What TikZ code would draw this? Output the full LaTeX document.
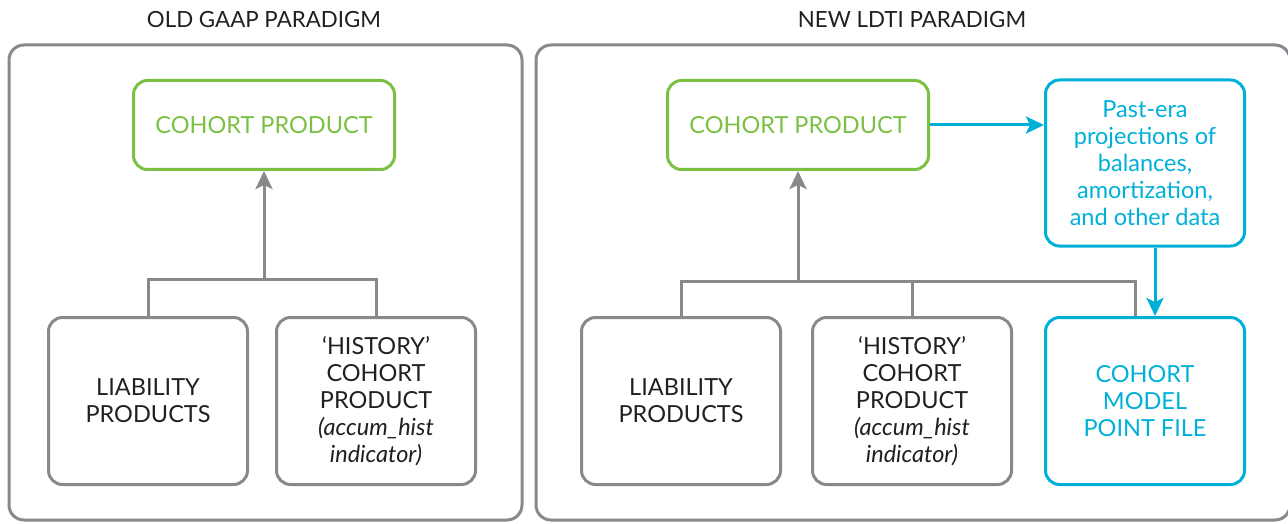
\documentclass[tikz,border=0pt]{standalone}
\usepackage{fontspec}
\setmainfont{Lato}
\usetikzlibrary{arrows.meta}
\definecolor{frame}{HTML}{88898C}
\definecolor{cgreen}{HTML}{7AC143}
\definecolor{cblue}{HTML}{00B0D8}
\definecolor{ink}{HTML}{231F20}
\begin{document}
\begin{tikzpicture}[x=1pt, y=-1pt,
		panel/.style={draw=frame, line width=3pt, rounded corners=15pt},
		prodbox/.style={draw=frame, line width=3pt, rounded corners=14pt, minimum width=199pt, minimum height=167pt, inner sep=0pt, align=center, text=ink, font=\fontsize{23.5}{27}\selectfont},
		cohortbox/.style={prodbox, draw=cgreen, text=cgreen, minimum width=261pt, minimum height=89pt},
		databox/.style={prodbox, draw=cblue, text=cblue},
		title/.style={text=ink, font=\fontsize{22.3}{27}\selectfont},
		link/.style={draw=frame, line width=3pt},
		feed/.style={draw=cblue, line width=3pt},
		tip/.style={-{Stealth[length=18pt, width=17pt, inset=4pt]}}]
		\useasboundingbox (0,0) rectangle (1288,524);
		% two paradigms side by side
		\draw[panel] (9,45) rectangle (522,520);
		\draw[panel] (536,45) rectangle (1290,520);
		\node[title] (oldtitle) at (264,20) {OLD GAAP PARADIGM};
		\node[title] (newtitle) at (912,20) {NEW LDTI PARADIGM};
		% old GAAP
		\node[cohortbox] (oldcohort) at (264,125) {COHORT PRODUCT};
		\node[prodbox] (oldliab) at (148,401) {LIABILITY\\PRODUCTS};
		\node[prodbox] (oldhist) at (376,401) {`HISTORY'\\COHORT\\PRODUCT\\\textit{(accum\_hist}\\\textit{indicator)}};
		\coordinate (oldbus) at (264,279);
		\draw[link] (oldliab.north) -- (oldliab.north |- oldbus) -- (oldhist.north |- oldbus) -- (oldhist.north);
		\draw[link, tip] (oldbus) -- (oldcohort.south);
		% new LDTI
		\node[cohortbox] (newcohort) at (798,125) {COHORT PRODUCT};
		\node[databox, minimum height=166pt] (pastera) at (1145,163) {Past-era\\projections of\\balances,\\amortization,\\and other data};
		\node[prodbox] (newliab) at (681,401) {LIABILITY\\PRODUCTS};
		\node[prodbox] (newhist) at (912,401) {`HISTORY'\\COHORT\\PRODUCT\\\textit{(accum\_hist}\\\textit{indicator)}};
		\node[databox] (pointfile) at (1145,401) {COHORT\\MODEL\\POINT FILE};
		\coordinate (newbus) at (798,281);
		\coordinate (filein) at ([xshift=-10pt]pointfile.north);
		\draw[link] (newliab.north) -- (newliab.north |- newbus) -- (filein |- newbus) -- (filein);
		\draw[link] (newhist.north) -- (newhist.north |- newbus);
		\draw[link, tip] (newbus) -- (newcohort.south);
		\draw[feed, tip] (newcohort.east) -- (newcohort.east -| pastera.west);
		\draw[feed, tip] ([xshift=10pt]pastera.south) -- ([xshift=10pt]pointfile.north);
	\end{tikzpicture}
\end{document}
